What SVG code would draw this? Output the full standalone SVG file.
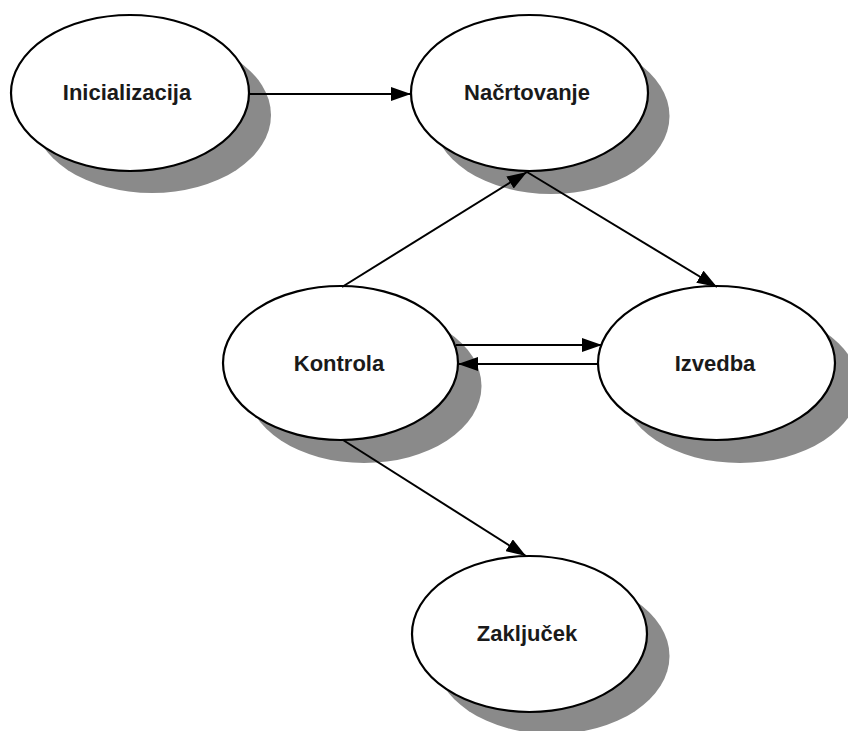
<svg xmlns="http://www.w3.org/2000/svg" width="848" height="731" viewBox="0 0 848 731">
  <style>
    .shadow { fill: #8a8a8a; stroke: none; }
    .node { fill: #ffffff; stroke: #000000; stroke-width: 2.2; }
    .label { font-family: "Liberation Sans", Arial, sans-serif; font-weight: bold; font-size: 22px; fill: #1a1a1a; text-anchor: middle; }
    .edge { stroke: #000000; stroke-width: 2; fill: none; marker-end: url(#arrow); }
  </style>
  <defs>
    <marker id="arrow" markerUnits="userSpaceOnUse" markerWidth="20" markerHeight="14" refX="20" refY="7" orient="auto">
      <path d="M0,0 L20,7 L0,14 z" fill="#000000"/>
    </marker>
  </defs>
  <rect width="848" height="731" fill="#ffffff"/>

  <g id="node-inicializacija">
    <ellipse class="shadow" cx="152" cy="115" rx="119" ry="78"/>
    <ellipse class="node" cx="130" cy="93" rx="119" ry="78"/>
    <text class="label" x="127" y="100">Inicializacija</text>
  </g>

  <g id="node-nacrtovanje">
    <ellipse class="shadow" cx="551" cy="116" rx="118.5" ry="78"/>
    <ellipse class="node" cx="529.5" cy="93" rx="118.5" ry="78"/>
    <text class="label" x="527" y="100">Načrtovanje</text>
  </g>

  <g id="node-kontrola">
    <ellipse class="shadow" cx="364" cy="386" rx="117.5" ry="77"/>
    <ellipse class="node" cx="340.5" cy="363" rx="117.5" ry="77"/>
    <text class="label" x="339" y="371">Kontrola</text>
  </g>

  <g id="node-izvedba">
    <ellipse class="shadow" cx="740" cy="386" rx="118.5" ry="77"/>
    <ellipse class="node" cx="716.5" cy="363" rx="118.5" ry="77"/>
    <text class="label" x="715" y="371">Izvedba</text>
  </g>

  <g id="node-zakljucek">
    <ellipse class="shadow" cx="552" cy="656" rx="117.5" ry="78"/>
    <ellipse class="node" cx="529.5" cy="634" rx="117.5" ry="78"/>
    <text class="label" x="527" y="641">Zaključek</text>
  </g>

  <g id="connectors">
    <line class="edge" x1="249" y1="94" x2="411" y2="94"/>
    <line class="edge" x1="342" y1="287" x2="527" y2="172"/>
    <line class="edge" x1="527" y1="172" x2="717" y2="287"/>
    <line class="edge" x1="456" y1="345" x2="602" y2="345"/>
    <line class="edge" x1="598" y1="364" x2="458" y2="364"/>
    <line class="edge" x1="343" y1="440" x2="526" y2="556"/>
  </g>
</svg>
